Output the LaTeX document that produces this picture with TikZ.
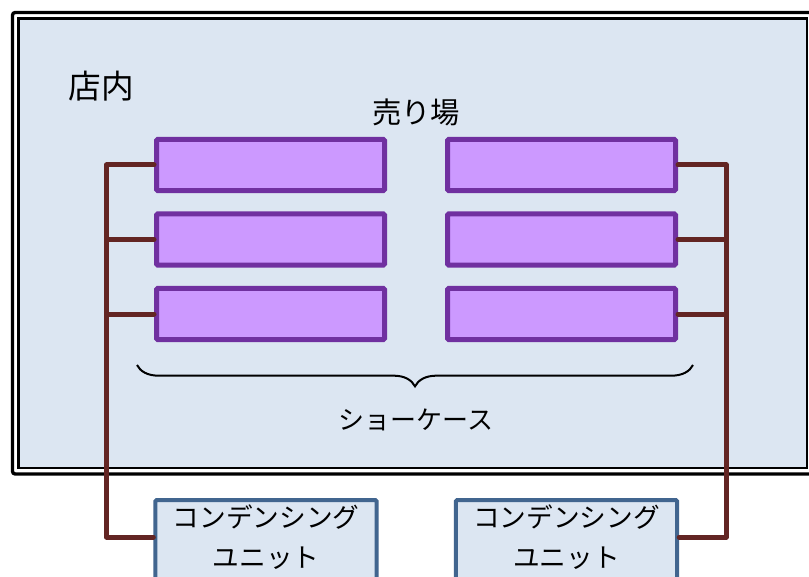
\documentclass[tikz,border=0pt]{standalone}
\usepackage{fontspec}
\newfontfamily\jp{Noto Sans CJK JP}
\usetikzlibrary{decorations.pathreplacing}
\definecolor{roomfill}{HTML}{DCE6F2}
\definecolor{casefill}{HTML}{CC99FF}
\definecolor{casedraw}{HTML}{7030A0}
\definecolor{pipecol}{HTML}{632523}
\definecolor{unitdraw}{HTML}{41658F}
\tikzset{
  showcase/.style={draw=casedraw, fill=casefill, line width=3.75pt, rounded corners=1pt,
    minimum width=171pt, minimum height=38.5pt, inner sep=0pt},
  pipe/.style={draw=pipecol, line width=3.75pt, line join=round, line cap=round},
  unitbox/.style={draw=unitdraw, fill=roomfill, line width=3pt, rounded corners=1pt,
    minimum width=166pt, minimum height=90pt, anchor=north, align=center,
    font=\jp\fontsize{20pt}{30pt}\selectfont, inner ysep=3.5pt, text depth=40pt},
  lbl/.style={font=\jp\fontsize{21pt}{24pt}\selectfont, text=black, inner sep=0pt},
  brc/.style={draw=black, line width=1.5pt, decorate,
    decoration={brace, mirror, amplitude=16pt}}
}
\begin{document}
\begin{tikzpicture}[x=0.75pt, y=-0.75pt]
\useasboundingbox (0,0) rectangle (809,577);
\clip (0,0) rectangle (809,577);
\fill[white] (0,0) rectangle (809,577);
% room frame (double line)
\draw[line width=2.5pt, rounded corners=2pt] (12.5,12.5) rectangle (830,474);
\draw[line width=2pt, fill=roomfill] (18.5,18.5) rectangle (807,468);
\node[lbl, font=\jp\fontsize{24.5pt}{28pt}\selectfont] (room) at (101,86) {店内};
\node[lbl, font=\jp\fontsize{22pt}{26pt}\selectfont] (floor) at (416,112) {売り場};
% showcases
\node[showcase] (sL1) at (270.5,165) {};
\node[showcase] (sL2) at (270.5,239.5) {};
\node[showcase] (sL3) at (270.5,314) {};
\node[showcase] (sR1) at (561.5,165) {};
\node[showcase] (sR2) at (561.5,239.5) {};
\node[showcase] (sR3) at (561.5,314) {};
% condensing units
\node[unitbox] (cuL) at (266,498) {コンデンシング\\ユニット};
\node[unitbox] (cuR) at (566.5,498) {コンデンシング\\ユニット};
% pipes
\coordinate (jL) at (106.5,165);
\coordinate (bL) at (106.5,537);
\coordinate (jR) at (726,165);
\coordinate (bR) at (726,537);
\draw[pipe] (sL1.west) -- (jL) -- (bL) -- (bL -| cuL.west);
\draw[pipe] (sL2.west) -- (sL2.west -| jL);
\draw[pipe] (sL3.west) -- (sL3.west -| jL);
\draw[pipe] (sR1.east) -- (jR) -- (bR) -- (bR -| cuR.east);
\draw[pipe] (sR2.east) -- (sR2.east -| jR);
\draw[pipe] (sR3.east) -- (sR3.east -| jR);
% brace
\coordinate (brA) at (137,365);
\coordinate (brB) at (693,365);
\draw[brc] (brA) -- (brB);
\node[lbl, font=\jp\fontsize{19.5pt}{24pt}\selectfont] (cases) at (416,420) {ショーケース};
\end{tikzpicture}
\end{document}
